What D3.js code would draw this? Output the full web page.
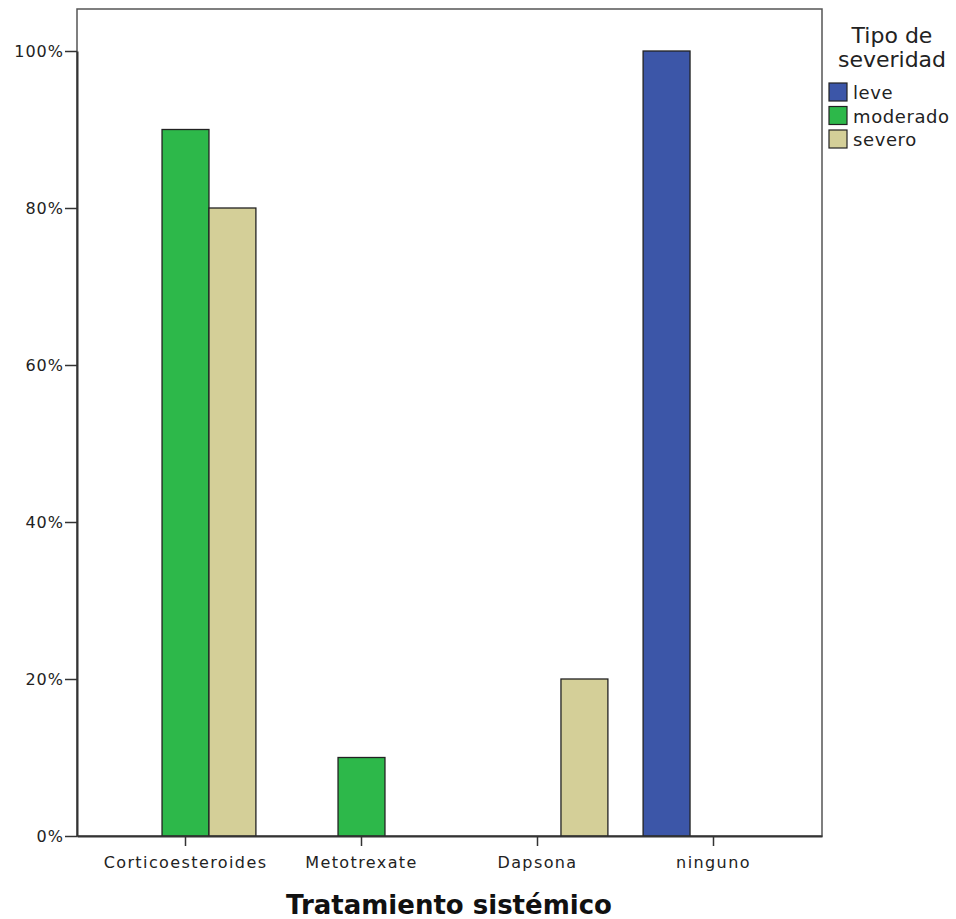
<!DOCTYPE html>
<html><head><meta charset="utf-8">
<script src="https://cdn.jsdelivr.net/npm/d3@7"></script>
<style>body{margin:0;background:#fff}svg{display:block}</style>
</head><body>
<script>
const categories = ["Corticoesteroides", "Metotrexate", "Dapsona", "ninguno"];
const series = ["leve", "moderado", "severo"];
const leve = [0, 0, 0, 100];
const moderado = [90, 10, 0, 0];
const severo = [80, 0, 20, 0];
const yTicks = [0, 20, 40, 60, 80, 100];
const colors = ["#3c56a8", "#2db84a", "#d4cf98"];

const W = 956, H = 919;
const frame = {l: 77, r: 822, t: 9, b: 836};
const svg = d3.select("body").append("svg").attr("width", W).attr("height", H);
const font = "'DejaVu Sans', Verdana, sans-serif";

const x = d3.scaleBand().domain(categories).range([frame.l, frame.r]).paddingInner(0.2).paddingOuter(0.2165);
const xs = d3.scaleBand().domain(series).range([0, x.bandwidth()]);
const y = d3.scaleLinear().domain([0, 100]).range([frame.b, 51]);

// frame
svg.append("rect").attr("x", frame.l).attr("y", frame.t).attr("width", frame.r - frame.l).attr("height", frame.b - frame.t)
  .attr("fill", "none").attr("stroke", "#555").attr("stroke-width", 1.5);

const data = [];
const vals = {leve, moderado, severo};
categories.forEach((c, i) => series.forEach((s, j) => data.push({c, s, v: vals[s][i], color: colors[j]})));

svg.append("g").selectAll("rect").data(data.filter(d => d.v > 0)).join("rect")
  .attr("x", d => x(d.c) + xs(d.s)).attr("width", xs.bandwidth())
  .attr("y", d => y(d.v)).attr("height", d => y(0) - y(d.v))
  .attr("fill", d => d.color).attr("stroke", "#222").attr("stroke-width", 1.3);

// y axis
const ya = svg.append("g").attr("transform", `translate(${frame.l},0)`)
  .call(d3.axisLeft(y).tickValues(yTicks).tickFormat(d => d + "%").tickSize(12).tickSizeOuter(0).tickPadding(1));
ya.select(".domain").attr("stroke", "#333").attr("stroke-width", 2);
ya.selectAll(".tick line").attr("stroke", "#333").attr("stroke-width", 1.5);
ya.selectAll("text").attr("font-family", font).attr("font-size", 16).attr("letter-spacing", "1px").attr("fill", "#222");

// x axis
const xa = svg.append("g").attr("transform", `translate(0,${frame.b})`)
  .call(d3.axisBottom(x).tickSize(10).tickSizeOuter(0).tickPadding(11));
xa.select(".domain").attr("stroke", "#333").attr("stroke-width", 2);
xa.selectAll(".tick line").attr("stroke", "#333").attr("stroke-width", 1.5);
xa.selectAll("text").attr("font-family", font).attr("font-size", 16).attr("fill", "#222").attr("letter-spacing", "1.4px");

svg.append("text").attr("x", 449).attr("y", 914).attr("text-anchor", "middle")
  .attr("font-family", font).attr("font-size", 26).attr("font-weight", "bold").attr("fill", "#111")
  .text("Tratamiento sistémico");

// legend
const lg = svg.append("g");
lg.append("text").attr("x", 892).attr("y", 43).attr("text-anchor", "middle").attr("font-family", font).attr("font-size", 22).attr("fill", "#222").text("Tipo de");
lg.append("text").attr("x", 892).attr("y", 67).attr("text-anchor", "middle").attr("font-family", font).attr("font-size", 22).attr("fill", "#222").text("severidad");
series.forEach((s, i) => {
  const yy = 83 + i * 23.5;
  lg.append("rect").attr("x", 829).attr("y", yy).attr("width", 18).attr("height", 18)
    .attr("fill", colors[i]).attr("stroke", "#222").attr("stroke-width", 1.2);
  lg.append("text").attr("x", 853).attr("y", yy + 16).attr("font-family", font).attr("font-size", 18).attr("letter-spacing", "0.6px").attr("fill", "#222").text(s);
});
</script>
</body></html>
